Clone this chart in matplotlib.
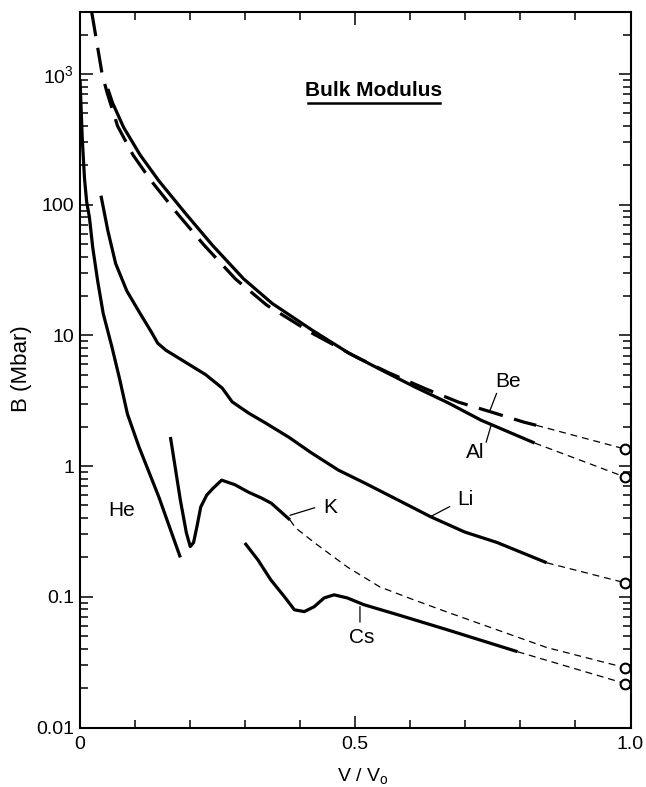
import matplotlib
matplotlib.use('Agg')
import matplotlib.pyplot as plt
from matplotlib.ticker import LogLocator, NullFormatter, MultipleLocator
from matplotlib.lines import Line2D

plt.rcParams['font.family'] = ['Liberation Sans', 'DejaVu Sans']
plt.rcParams['mathtext.fontset'] = 'custom'
plt.rcParams['mathtext.rm'] = 'Liberation Sans'
plt.rcParams['mathtext.it'] = 'Liberation Sans'
plt.rcParams['lines.scale_dashes'] = False

# ---- data (V/V0, B in Mbar) ----
he_x = [0.001, 0.005, 0.009, 0.013, 0.018, 0.024, 0.033, 0.043, 0.059, 0.073, 0.087, 0.108, 0.144, 0.183]
he_y = [900, 320, 160, 105, 80, 47, 26, 14.7, 8.1, 4.6, 2.5, 1.40, 0.58, 0.20]

li_x = [0.039, 0.0515, 0.0656, 0.086, 0.110, 0.131, 0.142, 0.157, 0.193, 0.229, 0.259, 0.277, 0.307,
        0.338, 0.380, 0.421, 0.470, 0.518, 0.578, 0.637, 0.699, 0.758, 0.848]
li_y = [117, 63, 35.4, 21.8, 14.7, 10.5, 8.7, 7.68, 6.2, 5.0, 3.95, 3.1, 2.54,
        2.13, 1.66, 1.26, 0.93, 0.74, 0.55, 0.41, 0.313, 0.26, 0.182]

al_x = [0.0515, 0.060, 0.080, 0.110, 0.144, 0.193, 0.241, 0.298, 0.350, 0.423, 0.489, 0.549,
        0.610, 0.670, 0.729, 0.826]
al_y = [767, 600, 390, 240, 152, 85, 49, 27, 17.5, 10.9, 7.3, 5.4, 4.0, 3.03, 2.24, 1.50]

be_x = [0.022, 0.041, 0.050, 0.069, 0.097, 0.130, 0.178, 0.226, 0.283, 0.340, 0.420, 0.500, 0.560,
        0.628, 0.688, 0.746, 0.806, 0.829]
be_y = [3000, 1000, 720, 400, 240, 152, 85, 49, 27, 17.0, 10.5, 6.9, 5.2, 3.9, 3.08, 2.6, 2.17, 2.05]

k_x = [0.165, 0.183, 0.194, 0.201, 0.207, 0.213, 0.220, 0.231, 0.243, 0.258, 0.282, 0.307, 0.330,
       0.348, 0.366, 0.382]
k_y = [1.67, 0.55, 0.308, 0.242, 0.26, 0.342, 0.486, 0.60, 0.68, 0.78, 0.72, 0.63, 0.57,
       0.52, 0.445, 0.387]

cs_x = [0.300, 0.324, 0.347, 0.372, 0.390, 0.408, 0.426, 0.444, 0.462, 0.486, 0.516, 0.577, 0.667, 0.795]
cs_y = [0.258, 0.191, 0.135, 0.100, 0.0795, 0.077, 0.084, 0.098, 0.1035, 0.098, 0.087, 0.073, 0.056, 0.038]

# extrapolations (thin dashed) to the V/V0 = 1 values (open circles)
be_ext_x = [0.829, 0.99]
be_ext_y = [2.05, 1.35]
al_ext_x = [0.826, 0.99]
al_ext_y = [1.50, 0.824]
li_ext_x = [0.848, 0.99]
li_ext_y = [0.182, 0.128]
k_ext_x = [0.382, 0.392, 0.427, 0.486, 0.545, 0.606, 0.665, 0.848, 0.99]
k_ext_y = [0.387, 0.337, 0.258, 0.169, 0.119, 0.095, 0.077, 0.0409, 0.0287]
cs_ext_x = [0.795, 0.99]
cs_ext_y = [0.038, 0.0217]

circ_x = [0.99, 0.99, 0.99, 0.99, 0.99]
circ_y = [1.35, 0.824, 0.128, 0.0287, 0.0217]

ytick_vals = [0.01, 0.1, 1, 10, 100, 1000]
ytick_labels = ['0.01', '0.1', '1', '10', '100', r'$10^3$']
xtick_vals = [0, 0.5, 1.0]
xtick_labels = ['0', '0.5', '1.0']

# ---- figure ----
fig = plt.figure(figsize=(6.46, 7.87), dpi=100)
W, H = 646, 787
ax = fig.add_axes([79.5 / W, 1 - 727.5 / H, 551 / W, 716 / H])
ax.set_yscale('log')
ax.set_xlim(0, 1)
ax.set_ylim(0.01, 3000)

solid = dict(color='black', lw=2.3, solid_capstyle='butt', solid_joinstyle='round')
thin = dict(color='black', lw=0.9, linestyle=(0, (5, 3.5)))

ax.plot(he_x, he_y, **solid)
ax.plot(li_x, li_y, **solid)
ax.plot(al_x, al_y, **solid)
ax.plot(k_x, k_y, **solid)
ax.plot(cs_x, cs_y, **solid)
ax.plot(be_x, be_y, color='black', lw=2.3, linestyle=(0, (18, 8.5)), dash_capstyle='butt')

for ex, ey in [(be_ext_x, be_ext_y), (al_ext_x, al_ext_y), (li_ext_x, li_ext_y),
               (k_ext_x, k_ext_y), (cs_ext_x, cs_ext_y)]:
    ax.plot(ex, ey, **thin)

ax.plot(circ_x, circ_y, linestyle='none', marker='o', markersize=7, markerfacecolor='white',
        markeredgecolor='black', markeredgewidth=1.5, clip_on=False, zorder=5)

# labels with leader lines
lab_kw = dict(fontsize=15, ha='center', va='center')
leader = dict(arrowstyle='-', color='black', lw=0.9, shrinkA=0, shrinkB=0)
ax.text(0.077, 0.46, 'He', **lab_kw)
ax.annotate('', xy=(0.382, 0.42), xytext=(0.427, 0.48), arrowprops=leader)
ax.text(0.455, 0.48, 'K', **lab_kw)
ax.annotate('', xy=(0.637, 0.41), xytext=(0.672, 0.49), arrowprops=leader)
ax.text(0.701, 0.55, 'Li', **lab_kw)
ax.annotate('', xy=(0.747, 2.05), xytext=(0.738, 1.52), arrowprops=leader)
ax.text(0.718, 1.26, 'Al', **lab_kw)
ax.annotate('', xy=(0.744, 2.6), xytext=(0.757, 3.6), arrowprops=leader)
ax.text(0.778, 4.45, 'Be', **lab_kw)
ax.annotate('', xy=(0.509, 0.084), xytext=(0.509, 0.064), arrowprops=leader)
ax.text(0.513, 0.0486, 'Cs', **lab_kw)

# ticks
ax.set_yticks(ytick_vals)
ax.set_yticklabels(ytick_labels)
ax.yaxis.set_minor_locator(LogLocator(base=10, subs=range(2, 10)))
ax.yaxis.set_minor_formatter(NullFormatter())
ax.set_xticks(xtick_vals)
ax.set_xticklabels(xtick_labels)
ax.xaxis.set_minor_locator(MultipleLocator(0.1))
ax.tick_params(which='both', direction='in', top=True, right=True, width=1.1, labelsize=14)
ax.tick_params(which='major', length=9)
ax.tick_params(which='minor', length=5.5)
ax.tick_params(axis='y', pad=4)
ax.tick_params(axis='x', pad=6)
for s in ax.spines.values():
    s.set_linewidth(1.5)

fig.text(22 / W, 1 - 369 / H, 'B (Mbar)', rotation=90, fontsize=16, ha='center', va='center')
fig.text(363 / W, 1 - 776 / H, r'V / V$_\mathrm{o}$', fontsize=14, ha='center', va='center')

fig.text(374 / W, 1 - 90 / H, 'Bulk Modulus', fontsize=15, fontweight='bold', ha='center', va='center')
fig.add_artist(Line2D([308 / W, 440 / W], [1 - 103 / H, 1 - 103 / H], color='black', lw=1.8))

fig.savefig('out.png', dpi=100)
